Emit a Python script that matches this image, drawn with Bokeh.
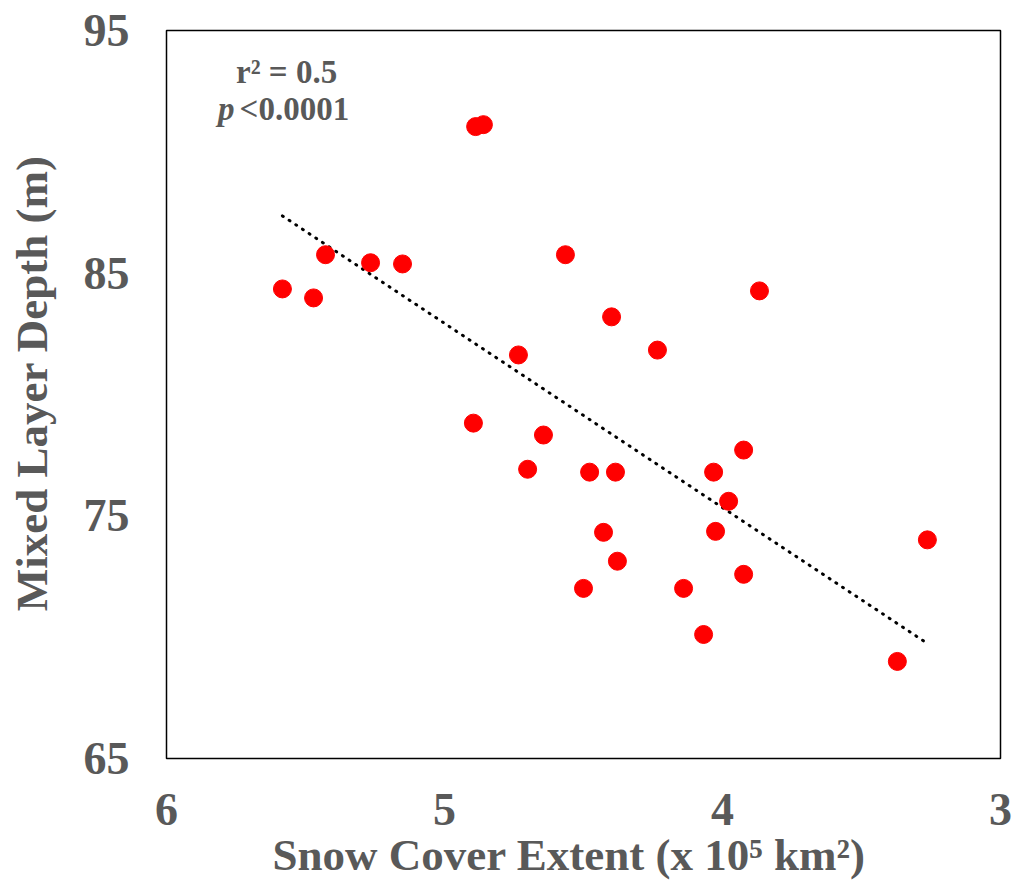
from bokeh.plotting import figure
from bokeh.models import Range1d, FixedTicker, ColumnDataSource, Title
from bokeh.embed import file_html
from bokeh.resources import INLINE
from bokeh.core.properties import value

# Data (snow cover extent in 1e5 km^2, mixed layer depth in m)
snow_cover = [5.583, 5.471, 5.428, 5.266, 5.151, 4.888, 4.860, 4.565, 3.867,
              4.399, 4.234, 4.734, 4.896, 4.644, 4.701, 4.478, 4.385, 4.032,
              3.924, 3.978, 4.025, 4.428, 4.378, 4.500, 4.140, 3.924, 4.068,
              3.263, 3.371]
mld = [84.35, 83.98, 85.76, 85.43, 85.38, 91.04, 91.12, 85.76, 84.27,
       83.20, 81.83, 81.63, 78.82, 78.33, 76.92, 76.80, 76.80, 76.80,
       77.71, 75.60, 74.36, 74.32, 73.13, 72.01, 72.01, 72.59, 70.11,
       74.01, 69.00]
# linear trendline (as drawn in the original)
trend_x = [5.583, 3.263]
trend_y = [87.36, 69.74]
x_ticks = [3, 4, 5, 6]
y_ticks = [65, 75, 85, 95]
x_label = "Snow Cover Extent (x 10\u2075 km\u00b2)"
y_label = "Mixed Layer Depth (m)"
stats_r2 = "r\u00b2 = 0.5"
stats_p_sym = "p"
stats_p_val = "<0.0001"

GRAY = "#595959"
FONT = "Liberation Serif"

p = figure(width=1012, height=880, output_backend="svg", toolbar_location=None,
           x_range=Range1d(6, 3), y_range=Range1d(65, 95),
           min_border_left=166, min_border_right=12, min_border_top=30,
           min_border_bottom=122)

p.xgrid.visible = False
p.ygrid.visible = False
p.outline_line_color = "black"
p.outline_line_width = 1.5
p.background_fill_color = "white"
p.border_fill_color = "white"

for ax in (p.xaxis[0], p.yaxis[0]):
    ax.axis_line_color = None
    ax.major_tick_line_color = None
    ax.minor_tick_line_color = None
    ax.major_label_text_font = FONT
    ax.major_label_text_font_style = "bold"
    ax.major_label_text_font_size = "46px"
    ax.major_label_text_color = GRAY

p.xaxis.ticker = FixedTicker(ticks=x_ticks)
p.yaxis.ticker = FixedTicker(ticks=y_ticks)
p.xaxis.major_label_standoff = 29
p.yaxis.major_label_standoff = 31

# y axis title: leading no-break spaces nudge it slightly upward as in the original
p.yaxis.axis_label = "\u00a0\u00a0" + y_label
p.yaxis.axis_label_text_font = FONT
p.yaxis.axis_label_text_font_style = "bold"
p.yaxis.axis_label_text_font_size = "45px"
p.yaxis.axis_label_text_color = GRAY
p.yaxis.axis_label_standoff = 24

xt = Title(text=x_label, align="left", offset=106, standoff=0,
           text_font=FONT, text_font_style="bold", text_font_size="45px", text_color=GRAY)
p.add_layout(xt, "below")

p.line(trend_x, trend_y, line_color="black", line_width=3, line_dash="1 7", line_cap="round")

src = ColumnDataSource(dict(x=snow_cover, y=mld))
p.scatter("x", "y", source=src, size=18, fill_color="red", line_color="red")

p.text(x=[5.568], y=[93.27], text=[stats_r2], text_font=value(FONT), text_font_style="bold",
       text_font_size="33px", text_color=GRAY, text_align="center", text_baseline="middle")
p.text(x=[5.755], y=[91.78], text=[stats_p_sym], text_font=value(FONT), text_font_style="bold italic",
       text_font_size="33px", text_color=GRAY, text_align="right", text_baseline="middle")
p.text(x=[5.737], y=[91.78], text=[stats_p_val], text_font=value(FONT), text_font_style="bold",
       text_font_size="33px", text_color=GRAY, text_align="left", text_baseline="middle")

open("out.html", "w").write(file_html(p, INLINE))
